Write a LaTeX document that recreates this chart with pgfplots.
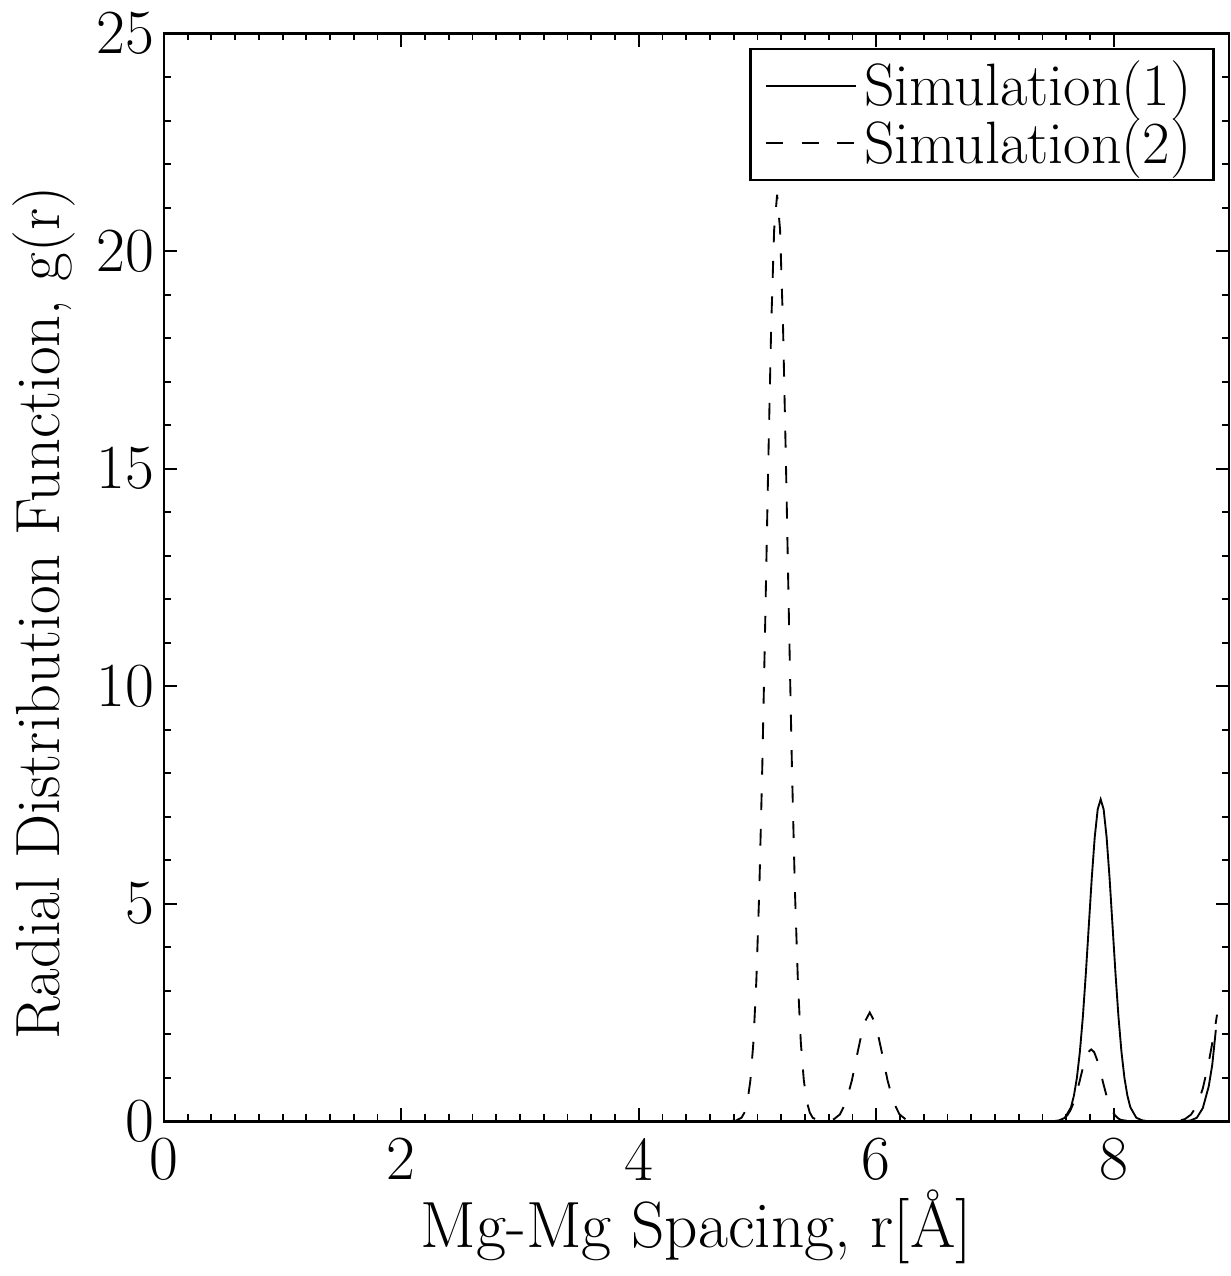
\documentclass[border=0pt]{standalone}
\usepackage{fontspec}
\usepackage{pgfplots}
\pgfplotsset{compat=1.18}
\begin{document}
\begin{tikzpicture}
\begin{axis}[
  scale only axis,
  width=285pt, height=291pt,
  xmin=0, xmax=8.97, ymin=0, ymax=25,
  xtick={0,2,4,6,8}, ytick={0,5,10,15,20,25},
  xticklabels={0,2,4,6,8},
  yticklabels={0,5,10,15,20,25},
  minor x tick num=9, minor y tick num=4,
  tick align=inside, tick pos=both,
  major tick length=3.5pt, minor tick length=1.8pt,
  axis line style={line width=0.7pt},
  every tick/.style={line width=0.5pt, black},
  tick label style={font=\fontsize{16.8}{19}\selectfont},
  xticklabel style={yshift=-1pt},
  yticklabel style={xshift=1pt},
  xlabel={Mg-Mg Spacing, r[\AA]},
  ylabel={Radial Distribution Function, g(r)},
  xlabel style={font=\fontsize{17.5}{20}\selectfont, yshift=4.5pt},
  ylabel style={font=\fontsize{16.7}{19}\selectfont, yshift=-1pt, xshift=-9.5pt},
  legend cell align=left,
  legend style={at={(rel axis cs:0.987,0.987)}, anchor=north east,
    font=\fontsize{16}{18}\selectfont, line width=0.7pt,
    inner xsep=4pt, inner ysep=1pt, row sep=-2pt},
  legend image code/.code={\draw[#1, line width=0.5pt] (0pt,0pt) -- (24pt,0pt);},
]
\addplot[black, line width=0.5pt] coordinates {
(0,0) (7.45,0) (7.49,0) (7.54,0.02) (7.59,0.08) (7.64,0.32) (7.665,0.59)
(7.69,1.00) (7.715,1.60) (7.74,2.40) (7.765,3.39) (7.79,4.49) (7.815,5.59)
(7.84,6.53) (7.865,7.17) (7.89,7.4) (7.915,7.17) (7.94,6.53) (7.965,5.59)
(7.99,4.49) (8.015,3.39) (8.04,2.40) (8.065,1.60) (8.09,1.00) (8.115,0.59)
(8.14,0.32) (8.19,0.08) (8.24,0.02) (8.29,0) (8.6,0) (8.65,0.02) (8.7,0.08)
(8.75,0.3) (8.8,0.8) (8.83,1.3) (8.86,2.1)
};
\addlegendentry{Simulation(1)}
\addplot[black, line width=0.5pt, dash pattern=on 4.5pt off 5pt] coordinates {
(0,0) (4.7,0) (4.815,0.01) (4.865,0.08) (4.89,0.20) (4.915,0.45) (4.94,0.94)
(4.965,1.80) (4.99,3.22) (5.015,5.31) (5.04,8.12) (5.065,11.49) (5.09,15.06)
(5.115,18.26) (5.14,20.49) (5.165,21.3) (5.19,20.49) (5.215,18.26) (5.24,15.06)
(5.265,11.49) (5.29,8.12) (5.315,5.31) (5.34,3.22) (5.365,1.80) (5.39,0.94)
(5.415,0.45) (5.44,0.20) (5.465,0.08) (5.515,0.01) (5.6,0)
(5.645,0.05) (5.695,0.16) (5.745,0.44) (5.795,0.94) (5.845,1.61) (5.895,2.24)
(5.945,2.5) (5.995,2.24) (6.045,1.61) (6.095,0.94) (6.145,0.44) (6.195,0.16)
(6.245,0.05) (6.295,0.01) (6.4,0) (7.5,0)
(7.56,0.01) (7.61,0.14) (7.635,0.25) (7.66,0.41) (7.685,0.63) (7.71,0.89)
(7.735,1.17) (7.76,1.41) (7.785,1.59) (7.81,1.65) (7.835,1.59) (7.86,1.41)
(7.885,1.17) (7.91,0.89) (7.935,0.63) (7.96,0.41) (7.985,0.25) (8.01,0.14)
(8.035,0.07) (8.06,0.03) (8.11,0.01) (8.2,0) (8.5,0) (8.55,0.01) (8.6,0.05)
(8.65,0.15) (8.7,0.35) (8.75,0.75) (8.8,1.35) (8.85,2.1) (8.87,2.45)
};
\addlegendentry{Simulation(2)}
\end{axis}
\end{tikzpicture}
\end{document}
